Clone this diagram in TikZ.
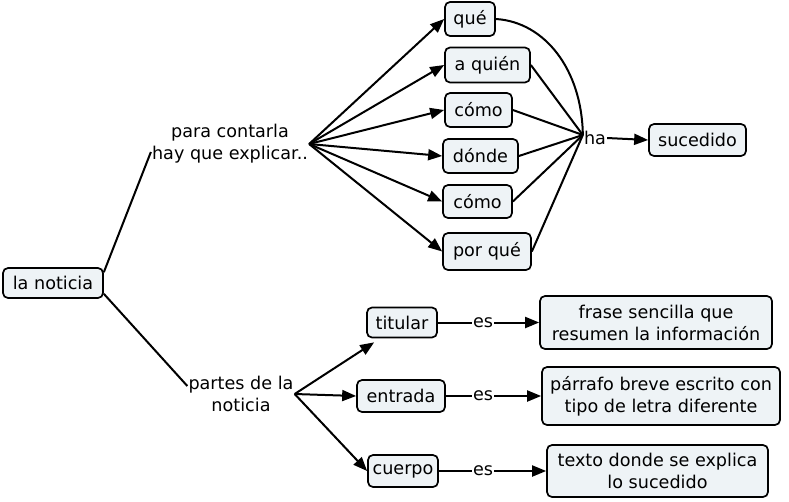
\documentclass[tikz,border=0pt]{standalone}
\usepackage{fontspec}
\setmainfont{DejaVu Sans}
\usetikzlibrary{arrows.meta}
\definecolor{boxfill}{RGB}{238,243,246}
\begin{document}
\begin{tikzpicture}[x=1pt,y=-1pt,
  every node/.style={font=\fontsize{17.6}{22}\selectfont, align=center},
  concept/.style={draw=black, line width=1.7pt, rounded corners=5pt, fill=boxfill, inner sep=0pt},
  phrase/.style={inner sep=1pt},
  link/.style={line width=2pt, draw=black},
  arr/.style={link, -{Triangle[length=14pt,width=11pt]}}
]
\useasboundingbox (0,0) rectangle (789,501);
% concepts
\node[concept, minimum width=100pt, minimum height=30pt] (noticia) at (53,283) {la noticia};
\node[concept, minimum width=50pt, minimum height=34pt] (que) at (470,19) {qué};
\node[concept, minimum width=85pt, minimum height=35pt] (aquien) at (487.5,65) {a quién};
\node[concept, minimum width=67pt, minimum height=34pt] (como1) at (478.5,110) {cómo};
\node[concept, minimum width=75pt, minimum height=34pt] (donde) at (480.5,156) {dónde};
\node[concept, minimum width=69pt, minimum height=33pt] (como2) at (477.5,201.5) {cómo};
\node[concept, minimum width=88pt, minimum height=37pt] (porque) at (487,251.5) {por qué};
\node[concept, minimum width=97pt, minimum height=32pt] (sucedido) at (697.5,140) {sucedido};
\node[concept, minimum width=70pt, minimum height=30pt] (titular) at (402,322.5) {titular};
\node[concept, minimum width=88pt, minimum height=32pt] (entrada) at (401,396) {entrada};
\node[concept, minimum width=70pt, minimum height=32pt] (cuerpo) at (403,471) {cuerpo};
\node[concept, minimum width=232pt, minimum height=53pt] (frase) at (656,322.5) {frase sencilla que\\resumen la información};
\node[concept, minimum width=238pt, minimum height=58pt] (parrafo) at (661,396) {párrafo breve escrito con\\tipo de letra diferente};
\node[concept, minimum width=221pt, minimum height=52pt] (texto) at (657.5,471) {texto donde se explica\\lo sucedido};
% linking phrases
\node[phrase] (para) at (230,144) {para contarla\\hay que explicar..};
\node[phrase] (partes) at (241,394) {partes de la\\noticia};
\node[phrase] (ha) at (595,138) {ha};
\node[phrase, anchor=center] (es1) at (titular.center -| 483,0) {es};
\node[phrase] (es2) at (entrada.center -| 483,0) {es};
\node[phrase] (es3) at (cuerpo.center -| 483,0) {es};
% connectors
\draw[link] ([yshift=-5pt]noticia.north east) -- ([yshift=-8pt]para.west);
\draw[link] ([yshift=5pt]noticia.south east) -- ([yshift=8pt]partes.west);
\foreach \t in {que,aquien,como1,donde,como2,porque}
  \draw[arr] (para.east) -- (\t.west);
\draw[link] (que.east) .. controls (545,22) and (582,70) .. ([yshift=3pt]ha.west);
\foreach \t in {aquien,como1,donde,como2,porque}
  \draw[link] (\t.east) -- ([yshift=3pt]ha.west);
\draw[arr] (ha.east) -- (sucedido.west);
\draw[arr] (partes.east) -- ([xshift=8pt,yshift=-4pt]titular.south west);
\draw[arr] (partes.east) -- (entrada.west);
\draw[arr] (partes.east) -- (cuerpo.west);
\draw[link] (titular.east) -- (es1.west);
\draw[arr] (es1.east) -- (frase.west);
\draw[link] (entrada.east) -- (es2.west);
\draw[arr] (es2.east) -- (parrafo.west);
\draw[link] (cuerpo.east) -- (es3.west);
\draw[arr] (es3.east) -- (texto.west);
\end{tikzpicture}
\end{document}
